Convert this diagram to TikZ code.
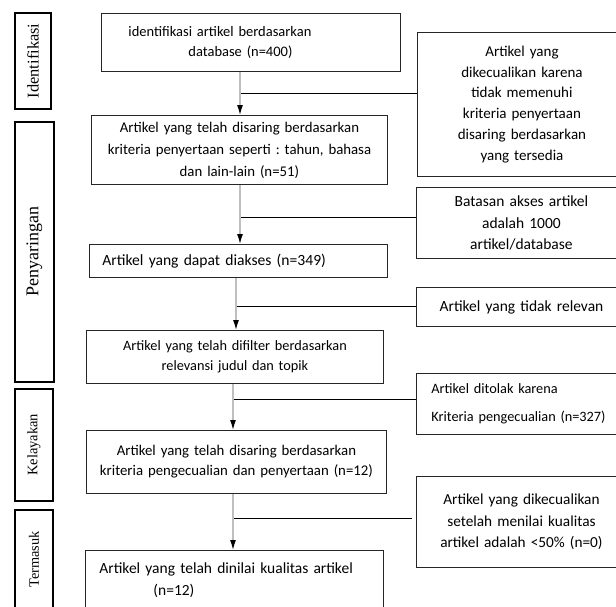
\documentclass[tikz,border=0pt]{standalone}
\usepackage{fontspec}
\setmainfont{Carlito}
\newfontfamily\stagefont{Liberation Serif}
\usetikzlibrary{arrows.meta}
\frenchspacing
\begin{document}
\begin{tikzpicture}[x=1pt,y=-1pt,
  box/.style={draw=black!85, line width=0.9pt, inner sep=0pt, anchor=north west, font=\fontsize{14.8}{21}\selectfont},
  rbox/.style={box, font=\fontsize{15.3}{21}\selectfont},
  stage/.style={draw=black, line width=1.8pt, inner sep=0pt, anchor=north west},
  vline/.style={draw=black!25, line width=1.2pt, -{Latex[black,length=10pt,width=6pt]}},
  hline/.style={draw=black, line width=0.9pt}]
\useasboundingbox (0,0) rectangle (616,606);
\clip (0,0) rectangle (616,606);
\fill[white] (0,0) rectangle (616,606);
% stages
\node[stage, minimum width=36, minimum height=96, font=\stagefont\fontsize{16.4}{18}\selectfont] (s1) at (14,12) {\rotatebox{90}{Identifikasi}};
\node[stage, minimum width=39, minimum height=260, font=\stagefont\fontsize{18}{18}\selectfont] (s2) at (14,121) {\rotatebox{90}{Penyaringan}};
\node[stage, minimum width=38, minimum height=112, font=\stagefont\fontsize{14.5}{18}\selectfont] (s3) at (14,388) {\rotatebox{90}{Kelayakan}};
\node[stage, minimum width=38, minimum height=99, font=\stagefont\fontsize{14.3}{18}\selectfont] (s4) at (14,509) {\rotatebox{90}{Termasuk}};
% main boxes
\node[box, minimum width=299, minimum height=58, text width=245, align=left, font=\fontsize{14.5}{19.5}\selectfont] (b1) at (101,13)
  {identifikasi artikel berdasarkan\\\hspace*{60pt}database (n=400)};
\node[box, minimum width=296, minimum height=69, text width=294, align=center, font=\fontsize{14.8}{22}\selectfont] (b2) at (91,115)
  {Artikel yang telah disaring berdasarkan\\kriteria penyertaan seperti : tahun, bahasa\\dan lain-lain (n=51)};
\node[box, minimum width=298, minimum height=33, text width=272, align=left, font=\fontsize{15.6}{21}\selectfont] (b3) at (89,244)
  {Artikel yang dapat diakses (n=349)};
\node[box, minimum width=297, minimum height=53, text width=294, align=center, font=\fontsize{14.3}{20}\selectfont] (b4) at (86,330)
  {Artikel yang telah difilter berdasarkan\\relevansi judul dan topik};
\node[box, minimum width=300, minimum height=63, text width=298, align=center, font=\fontsize{14.8}{20}\selectfont] (b5) at (86,430)
  {Artikel yang telah disaring berdasarkan\\kriteria pengecualian dan penyertaan (n=12)\\[4pt]};
\node[box, minimum width=298, minimum height=59, text width=270, align=left, font=\fontsize{15.5}{22}\selectfont] (b6) at (85,550)
  {Artikel yang telah dinilai kualitas artikel\\\hspace*{54pt}(n=12)};
% right boxes
\node[rbox, minimum width=209, minimum height=144, text width=200, align=center, font=\fontsize{15}{20.8}\selectfont] (r1) at (417,32)
  {Artikel yang\\dikecualikan karena\\tidak memenuhi\\kriteria penyertaan\\disaring berdasarkan\\yang tersedia};
\node[rbox, minimum width=210, minimum height=71, text width=200, align=center, font=\fontsize{15.5}{21.5}\selectfont] (r2) at (416,187)
  {Batasan akses artikel\\adalah 1000\\artikel/database};
\node[rbox, minimum width=210, minimum height=39, text width=200, align=center, font=\fontsize{15.5}{21}\selectfont] (r3) at (416,287)
  {Artikel yang tidak relevan};
\node[rbox, minimum width=210, minimum height=61, text width=180, align=left, font=\fontsize{14.3}{28}\selectfont] (r4) at (416,373)
  {Artikel ditolak karena\\Kriteria pengecualian (n=327)};
\node[rbox, minimum width=210, minimum height=91, text width=200, align=center, font=\fontsize{15.3}{21.5}\selectfont] (r5) at (416,476)
  {Artikel yang dikecualikan\\setelah menilai kualitas\\artikel adalah <50\% (n=0)\\[6pt]};
% connectors
\coordinate (c1) at (240,0);
\coordinate (c3) at (236,0);
\coordinate (c4) at (233,0);
\draw[vline] (b1.south -| c1) -- (b2.north -| c1);
\draw[vline] (b2.south -| c1) -- (b3.north -| c1);
\draw[vline] (b3.south -| c3) -- (b4.north -| c3);
\draw[vline] (b4.south -| c4) -- (b5.north -| c4);
\draw[vline] (b5.south -| c4) -- (b6.north -| c4);
\coordinate (h1) at (241,93);
\coordinate (h2) at (241,217);
\coordinate (h3) at (237,306);
\coordinate (h4) at (234,399);
\coordinate (h5) at (234,518);
\coordinate (e5) at (412,518);
\draw[hline] (h1) -- (h1 -| r1.west);
\draw[hline] (h2) -- (h2 -| r2.west);
\draw[hline] (h3) -- (h3 -| r3.west);
\draw[hline] (h4) -- (h4 -| r4.west);
\draw[hline] (h5) -- (e5);
\end{tikzpicture}
\end{document}
